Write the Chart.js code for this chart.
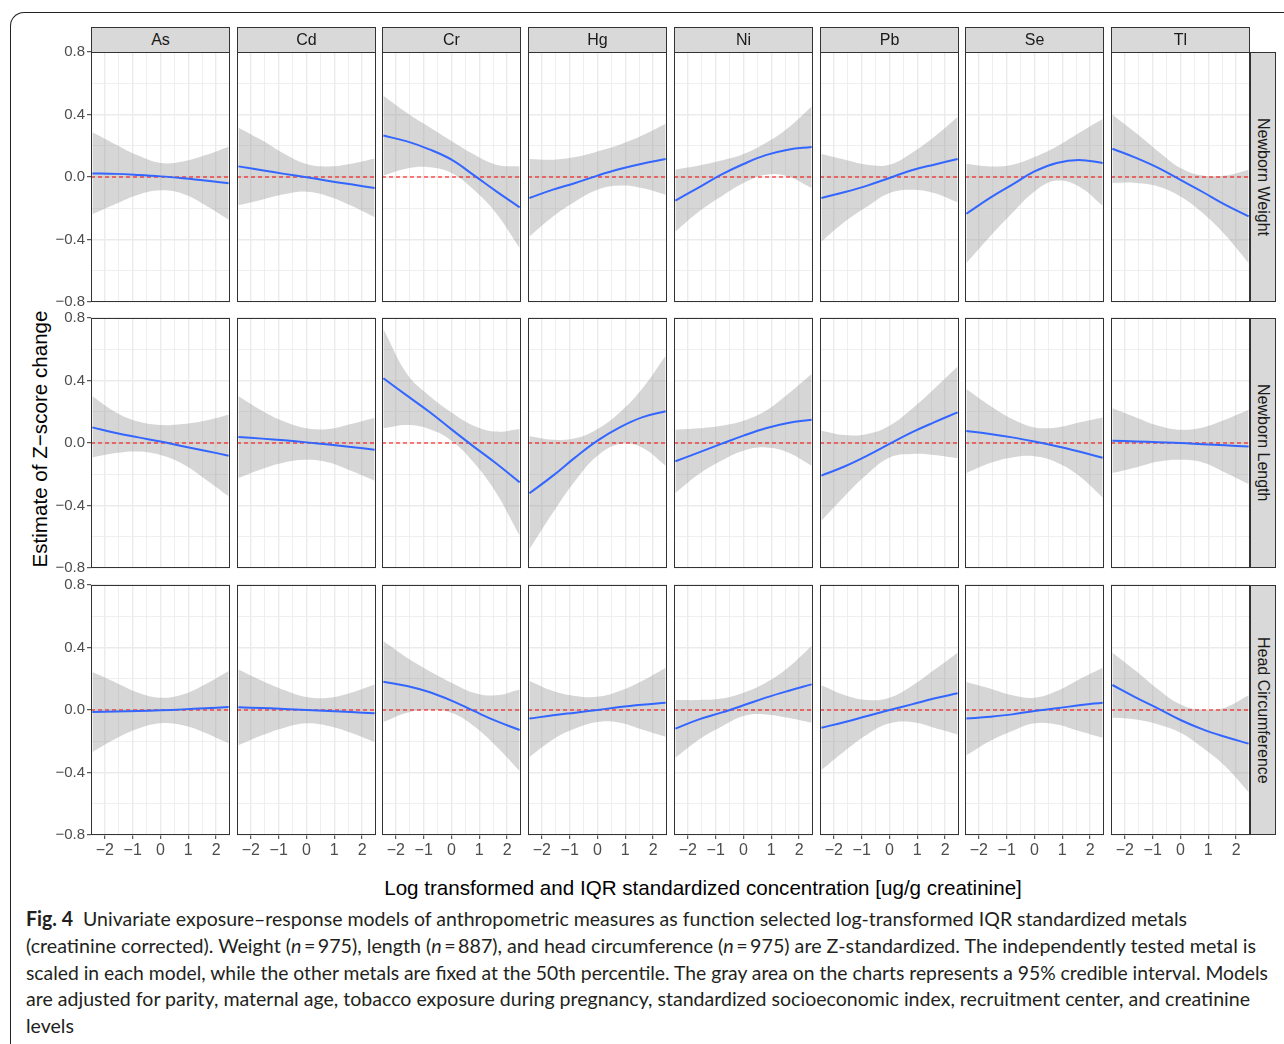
<!DOCTYPE html>
<html>
<head>
<meta charset="utf-8">
<script src="https://cdn.jsdelivr.net/npm/chart.js@4.4.0/dist/chart.umd.min.js"></script>
<style>
html, body { margin: 0; padding: 0; background: #fff; }
body { width: 1284px; height: 1044px; position: relative; overflow: hidden; font-family: "Liberation Sans", Arial, sans-serif; }
#frame { position: absolute; left: 10px; top: 12px; width: 1320px; height: 1100px; border-left: 1px solid #222; border-top: 1px solid #222; border-top-left-radius: 14px; }
canvas { position: absolute; }
.strip { position: absolute; box-sizing: border-box; background: #D9D9D9; border: 1px solid #333; color: #1A1A1A; font-size: 16px; display: flex; align-items: center; justify-content: center; }
.rstrip { writing-mode: vertical-rl; }
#ytitle { position: absolute; left: 40px; top: 439px; transform: translate(-50%, -50%) rotate(-90deg); font-size: 20.6px; white-space: nowrap; color: #000; }
#xtitle { position: absolute; left: 703px; top: 888px; transform: translate(-50%, -50%); font-size: 20.6px; white-space: nowrap; color: #000; }
.cap { position: absolute; left: 26px; font-family: Lato, "Open Sans", sans-serif; font-size: 20px; line-height: 26px; white-space: nowrap; color: #231F20; transform-origin: left center; }
</style>
</head>
<body>
<div id="frame"></div>
<div id="ytitle">Estimate of Z−score change</div>
<div id="xtitle">Log transformed and IQR standardized concentration [ug/g creatinine]</div>
<div class="cap" style="top:905px"><b>Fig. 4</b>&nbsp; Univariate exposure–response models of anthropometric measures as function selected log-transformed IQR standardized metals</div>
<div class="cap" style="top:932px">(creatinine corrected). Weight (<i>n</i>&#8201;=&#8201;975), length (<i>n</i>&#8201;=&#8201;887), and head circumference (<i>n</i>&#8201;=&#8201;975) are Z-standardized. The independently tested metal is</div>
<div class="cap" style="top:959px">scaled in each model, while the other metals are fixed at the 50th percentile. The gray area on the charts represents a 95% credible interval. Models</div>
<div class="cap" style="top:985px">are adjusted for parity, maternal age, tobacco exposure during pregnancy, standardized socioeconomic index, recruitment center, and creatinine</div>
<div class="cap" style="top:1012px">levels</div>
<script>
const metals = ['As', 'Cd', 'Cr', 'Hg', 'Ni', 'Pb', 'Se', 'Tl'];
const outcomes = ['Newborn Weight', 'Newborn Length', 'Head Circumference'];
const xPoints = [-2.45, -1.6, -0.8, 0, 0.8, 1.6, 2.45];
const yTickValues = [-0.8, -0.4, 0, 0.4, 0.8];
const yTickLabels = ['−0.8', '−0.4', '0.0', '0.4', '0.8'];
const xTickValues = [-2, -1, 0, 1, 2];
const xTickLabels = ['−2', '−1', '0', '1', '2'];
const refLine = 0;

// Newborn weight
const weightFit = [
  [0.023, 0.02, 0.013, 0.004, -0.008, -0.022, -0.04],
  [0.068, 0.043, 0.02, -0.002, -0.025, -0.047, -0.07],
  [0.265, 0.228, 0.177, 0.111, 0.012, -0.09, -0.194],
  [-0.134, -0.081, -0.038, 0.009, 0.051, 0.085, 0.115],
  [-0.151, -0.066, 0.015, 0.083, 0.14, 0.175, 0.192],
  [-0.134, -0.096, -0.055, -0.006, 0.043, 0.079, 0.115],
  [-0.235, -0.134, -0.049, 0.036, 0.09, 0.109, 0.09],
  [0.181, 0.122, 0.058, -0.019, -0.096, -0.177, -0.252]
];
const weightLower = [
  [-0.239, -0.171, -0.113, -0.085, -0.107, -0.179, -0.273],
  [-0.181, -0.145, -0.111, -0.094, -0.124, -0.183, -0.258],
  [0.009, 0.055, 0.062, 0.026, -0.081, -0.23, -0.454],
  [-0.38, -0.252, -0.156, -0.081, -0.055, -0.07, -0.113],
  [-0.348, -0.22, -0.124, -0.038, 0.015, 0.004, -0.07],
  [-0.412, -0.284, -0.188, -0.102, -0.081, -0.102, -0.162],
  [-0.55, -0.38, -0.23, -0.092, -0.023, -0.06, -0.183],
  [-0.038, -0.038, -0.06, -0.124, -0.23, -0.369, -0.55]
];
const weightUpper = [
  [0.286, 0.207, 0.137, 0.09, 0.1, 0.139, 0.194],
  [0.316, 0.235, 0.149, 0.083, 0.068, 0.085, 0.119],
  [0.52, 0.41, 0.32, 0.23, 0.145, 0.079, 0.068],
  [0.115, 0.111, 0.128, 0.164, 0.207, 0.265, 0.341],
  [0.047, 0.073, 0.105, 0.147, 0.218, 0.314, 0.452],
  [0.147, 0.111, 0.079, 0.079, 0.154, 0.256, 0.384],
  [0.083, 0.068, 0.079, 0.128, 0.196, 0.282, 0.371],
  [0.399, 0.282, 0.164, 0.058, 0.009, 0.009, 0.047]
];

// Newborn length
const lengthFit = [
  [0.1, 0.064, 0.036, 0.009, -0.021, -0.049, -0.081],
  [0.038, 0.028, 0.017, 0.004, -0.01, -0.025, -0.043],
  [0.414, 0.303, 0.2, 0.087, -0.023, -0.13, -0.252],
  [-0.322, -0.209, -0.092, 0.015, 0.1, 0.164, 0.203],
  [-0.117, -0.06, -0.006, 0.047, 0.094, 0.128, 0.149],
  [-0.209, -0.149, -0.081, -0.006, 0.068, 0.132, 0.196],
  [0.077, 0.058, 0.036, 0.009, -0.021, -0.055, -0.094],
  [0.015, 0.01, 0.005, 0.0, -0.008, -0.015, -0.023]
];
const lengthLower = [
  [-0.092, -0.064, -0.055, -0.077, -0.134, -0.23, -0.341],
  [-0.224, -0.166, -0.124, -0.107, -0.124, -0.177, -0.241],
  [0.094, 0.115, 0.09, 0.015, -0.124, -0.316, -0.593],
  [-0.678, -0.444, -0.241, -0.081, -0.006, -0.028, -0.145],
  [-0.32, -0.198, -0.113, -0.049, -0.028, -0.06, -0.145],
  [-0.497, -0.337, -0.198, -0.092, -0.07, -0.077, -0.098],
  [-0.192, -0.128, -0.092, -0.085, -0.124, -0.209, -0.348],
  [-0.192, -0.156, -0.119, -0.107, -0.124, -0.188, -0.262]
];
const lengthUpper = [
  [0.299, 0.196, 0.137, 0.115, 0.122, 0.143, 0.181],
  [0.299, 0.207, 0.137, 0.094, 0.09, 0.122, 0.16],
  [0.73, 0.442, 0.303, 0.196, 0.111, 0.073, 0.09],
  [0.043, 0.021, 0.03, 0.09, 0.196, 0.346, 0.559],
  [0.085, 0.094, 0.111, 0.143, 0.207, 0.314, 0.442],
  [0.079, 0.051, 0.058, 0.111, 0.218, 0.346, 0.49],
  [0.346, 0.239, 0.154, 0.1, 0.1, 0.132, 0.164],
  [0.222, 0.164, 0.111, 0.085, 0.1, 0.149, 0.213]
];

// Head circumference
const headFit = [
  [-0.013, -0.01, -0.006, -0.002, 0.004, 0.011, 0.019],
  [0.017, 0.013, 0.007, 0.0, -0.006, -0.013, -0.021],
  [0.181, 0.154, 0.115, 0.06, -0.006, -0.07, -0.128],
  [-0.055, -0.034, -0.017, 0.0, 0.019, 0.034, 0.047],
  [-0.119, -0.06, -0.017, 0.03, 0.079, 0.122, 0.164],
  [-0.113, -0.077, -0.038, 0.0, 0.036, 0.073, 0.107],
  [-0.055, -0.043, -0.028, -0.006, 0.011, 0.03, 0.047],
  [0.16, 0.079, 0.009, -0.064, -0.124, -0.171, -0.215]
];
const headLower = [
  [-0.269, -0.183, -0.119, -0.085, -0.098, -0.145, -0.213],
  [-0.226, -0.162, -0.113, -0.085, -0.102, -0.145, -0.205],
  [-0.077, -0.017, 0.0, -0.017, -0.102, -0.23, -0.39],
  [-0.301, -0.188, -0.119, -0.077, -0.081, -0.124, -0.171],
  [-0.305, -0.188, -0.107, -0.038, -0.028, -0.049, -0.081],
  [-0.384, -0.26, -0.156, -0.085, -0.077, -0.113, -0.156],
  [-0.29, -0.198, -0.134, -0.085, -0.092, -0.134, -0.177],
  [-0.049, -0.06, -0.092, -0.145, -0.241, -0.358, -0.525]
];
const headUpper = [
  [0.243, 0.175, 0.111, 0.079, 0.1, 0.164, 0.25],
  [0.26, 0.188, 0.128, 0.083, 0.079, 0.111, 0.164],
  [0.442, 0.335, 0.25, 0.175, 0.111, 0.094, 0.132],
  [0.186, 0.122, 0.09, 0.085, 0.122, 0.186, 0.271],
  [0.064, 0.064, 0.073, 0.111, 0.175, 0.271, 0.41],
  [0.158, 0.094, 0.064, 0.079, 0.154, 0.256, 0.367],
  [0.179, 0.137, 0.094, 0.079, 0.122, 0.196, 0.271],
  [0.367, 0.25, 0.132, 0.036, 0.0, 0.015, 0.094]
];

const fits = [weightFit, lengthFit, headFit];
const lowers = [weightLower, lengthLower, headLower];
const uppers = [weightUpper, lengthUpper, headUpper];

const rowTop = [52, 318, 585];
const panelW = 139, panelH = 250;
const colLeft = c => Math.round(91 + c * 145.7);
const yAxisW = 52, xAxisH = 26, pad = 9;
const axisFont = '"Liberation Sans", Arial, sans-serif';

function near(list, v) {
  return list.findIndex(t => Math.abs(t - v) < 1e-6);
}
function pts(values) {
  return xPoints.map((x, i) => ({ x: x, y: values[i] }));
}

const panelBorder = {
  id: 'panelBorder',
  afterDraw(chart) {
    const a = chart.chartArea, ctx = chart.ctx;
    ctx.save();
    ctx.strokeStyle = '#333333';
    ctx.lineWidth = 1;
    ctx.strokeRect(Math.round(a.left) + 0.5, Math.round(a.top) + 0.5,
      Math.round(a.right - a.left) - 1, Math.round(a.bottom - a.top) - 1);
    ctx.restore();
  }
};

for (let r = 0; r < outcomes.length; r++) {
  for (let c = 0; c < metals.length; c++) {
    const firstCol = c === 0, lastRow = r === outcomes.length - 1;
    const canvas = document.createElement('canvas');
    const w = panelW + (firstCol ? yAxisW : 0);
    const h = panelH + pad + (lastRow ? xAxisH : pad);
    canvas.width = w;
    canvas.height = h;
    canvas.style.left = (colLeft(c) - (firstCol ? yAxisW : 0)) + 'px';
    canvas.style.top = (rowTop[r] - pad) + 'px';
    document.body.appendChild(canvas);

    new Chart(canvas, {
      type: 'line',
      data: {
        datasets: [
          { data: pts(fits[r][c]), borderColor: '#3366FF', borderWidth: 2, fill: false, order: 1 },
          { data: [{ x: -2.5, y: refLine }, { x: 2.5, y: refLine }], borderColor: '#FF0000', borderWidth: 1.1, borderDash: [4, 3], fill: false, tension: 0, order: 2 },
          { data: pts(uppers[r][c]), borderWidth: 0, borderColor: 'rgba(0,0,0,0)', backgroundColor: 'rgba(153,153,153,0.4)', fill: '+1', order: 3 },
          { data: pts(lowers[r][c]), borderWidth: 0, borderColor: 'rgba(0,0,0,0)', fill: false, order: 4 }
        ]
      },
      options: {
        responsive: false,
        animation: false,
        devicePixelRatio: 1,
        layout: { padding: { top: pad, bottom: lastRow ? 0 : pad, left: 0, right: 0 } },
        elements: { point: { radius: 0 }, line: { tension: 0.4 } },
        plugins: { legend: { display: false }, tooltip: { enabled: false } },
        scales: {
          x: {
            type: 'linear', min: -2.5, max: 2.5,
            border: { display: false },
            ticks: {
              stepSize: 0.5, autoSkip: false, maxRotation: 0, display: lastRow, padding: 2,
              color: '#4D4D4D', font: { size: 16, family: axisFont },
              callback: v => { const i = near(xTickValues, v); return i < 0 ? '' : xTickLabels[i]; }
            },
            grid: {
              color: ctx => Math.abs(ctx.tick.value) > 2.4 ? 'rgba(0,0,0,0)' : '#EBEBEB',
              lineWidth: ctx => near(xTickValues, ctx.tick.value) >= 0 ? 1.4 : 0.8,
              drawTicks: lastRow, tickLength: 4, tickWidth: 1,
              tickColor: ctx => near(xTickValues, ctx.tick.value) >= 0 ? '#333333' : 'rgba(0,0,0,0)'
            },
            afterFit: s => { s.height = lastRow ? xAxisH : 0; s.paddingLeft = 0; s.paddingRight = 0; }
          },
          y: {
            min: -0.8, max: 0.8,
            border: { display: false },
            ticks: {
              stepSize: 0.2, autoSkip: false, display: firstCol, padding: 2,
              color: '#4D4D4D', font: { size: 15, family: axisFont },
              callback: v => { const i = near(yTickValues, v); return i < 0 ? '' : yTickLabels[i]; }
            },
            grid: {
              color: '#EBEBEB',
              lineWidth: ctx => near(yTickValues, ctx.tick.value) >= 0 ? 1.4 : 0.8,
              drawTicks: firstCol, tickLength: 4, tickWidth: 1,
              tickColor: ctx => near(yTickValues, ctx.tick.value) >= 0 ? '#333333' : 'rgba(0,0,0,0)'
            },
            afterFit: s => { s.width = firstCol ? yAxisW : 0; s.paddingTop = 0; s.paddingBottom = 0; }
          }
        }
      },
      plugins: [panelBorder]
    });
  }
}

// facet strips
metals.forEach((m, c) => {
  const d = document.createElement('div');
  d.className = 'strip';
  d.style.left = colLeft(c) + 'px';
  d.style.top = '27px';
  d.style.width = panelW + 'px';
  d.style.height = '26px';
  d.textContent = m;
  document.body.appendChild(d);
});
outcomes.forEach((o, r) => {
  const d = document.createElement('div');
  d.className = 'strip rstrip';
  d.style.left = (colLeft(7) + panelW) + 'px';
  d.style.top = rowTop[r] + 'px';
  d.style.width = '26px';
  d.style.height = panelH + 'px';
  d.textContent = o;
  document.body.appendChild(d);
});

// caption line widths as in the printed figure
const capTargets = [1161, 1230, 1242, 1224];
const capLines = document.querySelectorAll('.cap');
let lastScale = 1;
capLines.forEach((el, i) => {
  const wNow = el.getBoundingClientRect().width;
  const s = i < capTargets.length ? capTargets[i] / wNow : lastScale;
  lastScale = s;
  el.style.transform = 'scaleX(' + s.toFixed(4) + ')';
});
</script>
</body>
</html>
